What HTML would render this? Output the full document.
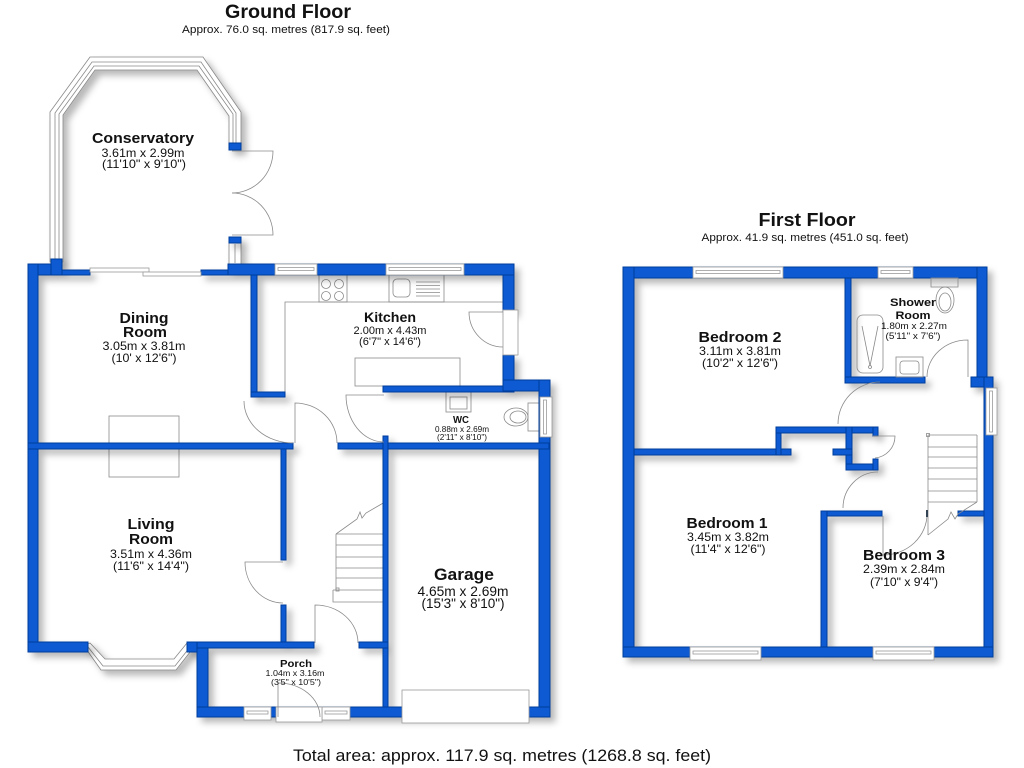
<!DOCTYPE html>
<html><head><meta charset="utf-8"><style>
html,body{margin:0;padding:0;background:#fff;}
svg{display:block;}
text{font-family:"Liberation Sans",Arial,sans-serif;fill:#111;}
.b{font-weight:bold;}
.ln{fill:none;stroke:#8a8a8a;stroke-width:0.8;}
.wl{fill:#0a5ad2;stroke:#003c9c;stroke-width:1;}
.wn{fill:#fff;stroke:#9a9a9a;stroke-width:0.8;}
</style></head><body>
<svg width="1024" height="768" viewBox="0 0 1024 768" xmlns="http://www.w3.org/2000/svg">
<defs>
<filter id="sh" x="-10%" y="-10%" width="130%" height="130%"><feDropShadow dx="5" dy="5" stdDeviation="3.5" flood-color="#000" flood-opacity="0.28"/></filter>
</defs>
<rect width="1024" height="768" fill="#fff"/>

<!-- fixtures ground -->
<rect class="ln" x="109" y="416" width="70" height="61"/>
<polyline class="ln" points="285,393 285,302 503,302"/>
<rect class="ln" x="319" y="275" width="28" height="27"/>
<circle class="ln" cx="326" cy="284" r="4.5"/><circle class="ln" cx="339" cy="284" r="4.5"/>
<circle class="ln" cx="326" cy="296" r="4.5"/><circle class="ln" cx="339" cy="296" r="4.5"/>
<rect class="ln" x="389" y="275" width="55" height="27"/>
<rect class="ln" x="393" y="279" width="17" height="18" rx="4"/>
<path class="ln" d="M416,282H440M416,285.5H440M416,289H440M416,292.5H440M416,296H440"/>
<rect class="ln" x="355" y="358" width="105" height="28"/>
<!-- WC fittings -->
<rect class="ln" x="446" y="392" width="25" height="20"/>
<rect class="ln" x="450" y="397" width="17" height="12"/>
<ellipse class="ln" cx="516" cy="417" rx="12" ry="9"/>
<ellipse class="ln" cx="518" cy="417" rx="8" ry="6"/>
<rect class="ln" x="528" y="403" width="13" height="28"/>
<!-- hall stairs -->
<path class="ln" d="M336,534V590M333,590V602H385M333,590H385M336,578H385M336,568H385M336,557H385M336,545H385M336,534H385"/>
<polyline class="ln" points="336,534 357,519 360,512 362,518 366,513 385,502"/>
<rect class="ln" x="336" y="588" width="3" height="3"/>

<!-- conservatory glazing -->
<g filter="url(#sh)">
<polygon fill="#fff" stroke="#888" stroke-width="0.8" points="50,262 50,112 90,57 203,57 241,112 241,143 229,143 229,116 197,70 95,70 63,115 63,262"/>
<rect x="229" y="243" width="12" height="21" fill="#fff" stroke="#888" stroke-width="0.8"/>
<polygon fill="#fff" stroke="#888" stroke-width="0.8" points="84,646 101,670 176,670 194,647 187,643 174,659 105,659 90,643"/>
</g>
<polyline class="ln" points="55,262 55,113 92,62 201,62 236,113 236,143"/>
<polyline class="ln" points="59,262 59,114 94,66 199,66 233,114 233,143"/>
<path class="ln" d="M235,244V263"/>
<polyline class="ln" points="88,647 103,666 175,666 190,647"/>

<!-- walls -->
<g class="wl" filter="url(#sh)">
<rect x="28" y="264" width="24" height="11"/>
<rect x="51" y="259" width="11" height="16"/>
<rect x="62" y="270" width="28" height="5"/>
<rect x="201" y="270" width="28" height="5"/>
<rect x="228" y="264" width="286" height="11"/>
<rect x="229" y="143" width="12" height="7"/>
<rect x="229" y="237" width="12" height="6"/>
<rect x="28" y="264" width="10" height="388"/>
<rect x="251" y="275" width="6" height="122"/>
<rect x="251" y="392" width="34" height="5"/>
<rect x="503" y="275" width="11" height="37"/>
<rect x="503" y="355" width="11" height="37"/>
<rect x="383" y="386" width="131" height="6"/>
<rect x="503" y="380" width="47" height="11"/>
<rect x="539" y="380" width="11" height="337"/>
<rect x="28" y="443" width="265" height="6"/>
<rect x="338" y="443" width="211" height="6"/>
<rect x="383" y="436" width="5" height="281"/>
<rect x="281" y="449" width="5" height="111"/>
<rect x="281" y="605" width="5" height="37"/>
<rect x="28" y="642" width="60" height="10"/>
<rect x="187" y="642" width="21" height="10"/>
<rect x="197" y="642" width="11" height="75"/>
<rect x="197" y="642" width="117" height="6"/>
<rect x="359" y="642" width="29" height="6"/>
<rect x="197" y="707" width="353" height="10"/>
<!-- first floor -->
<rect x="623" y="267" width="364" height="11"/>
<rect x="623" y="267" width="11" height="390"/>
<rect x="977" y="267" width="10" height="116"/>
<rect x="971" y="377" width="22" height="10"/>
<rect x="984" y="377" width="9" height="280"/>
<rect x="623" y="647" width="370" height="10"/>
<rect x="845" y="278" width="6" height="105"/>
<rect x="845" y="377" width="80" height="6"/>
<rect x="634" y="449" width="157" height="6"/>
<rect x="776" y="427" width="5" height="28"/>
<rect x="776" y="427" width="102" height="6"/>
<rect x="846" y="427" width="6" height="43"/>
<rect x="833" y="449" width="19" height="6"/>
<rect x="846" y="464" width="32" height="6"/>
<rect x="873" y="427" width="5" height="9"/>
<rect x="873" y="459" width="5" height="11"/>
<rect x="821" y="511" width="61" height="5"/>
<rect x="821" y="511" width="6" height="136"/>
<rect x="958" y="511" width="26" height="5"/>
</g>

<!-- windows ground -->
<g class="wn">
<rect x="275" y="264" width="42" height="11"/><rect x="278" y="267.5" width="36" height="3"/>
<rect x="386" y="264" width="78" height="11"/><rect x="389" y="267.5" width="72" height="3"/>
<rect x="90" y="268" width="59" height="4"/><rect x="143" y="272" width="58" height="4"/>
<rect x="540" y="397" width="12" height="40"/><rect x="543.5" y="400" width="3" height="34"/>
<rect x="244" y="707" width="27" height="13"/><rect x="247" y="711" width="21" height="3"/>
<rect x="322" y="707" width="28" height="13"/><rect x="325" y="711" width="22" height="3"/>
<rect x="276" y="707" width="46" height="15"/>
<rect x="402" y="690" width="127" height="33"/>
<rect x="503" y="310" width="15" height="45"/>
<!-- windows first -->
<rect x="693" y="267" width="90" height="11"/><rect x="696" y="270.5" width="84" height="3"/>
<rect x="878" y="267" width="35" height="11"/><rect x="881" y="270.5" width="29" height="3"/>
<rect x="986" y="388" width="11" height="47"/><rect x="989.5" y="391" width="3" height="41"/>
<rect x="690" y="647" width="71" height="13"/><rect x="693" y="651" width="65" height="3"/>
<rect x="873" y="647" width="61" height="13"/><rect x="876" y="651" width="55" height="3"/>
</g>

<!-- doors ground -->
<g class="ln">
<path d="M232,151H273A41,42 0 0 1 232,193"/>
<path d="M232,235H273A41,42 0 0 0 232,193"/>
<path d="M244,401A49,42 0 0 0 293,443"/>
<path d="M295,443V403A42,40 0 0 1 337,443"/>
<path d="M384,395H346A38,47 0 0 0 384,442"/>
<path d="M503,312H469A34,35 0 0 0 503,347"/>
<path d="M283,562H245A38,41 0 0 0 283,603"/>
<path d="M315,643V605A43,38 0 0 1 358,643"/>
<path d="M278,717V683A42,34 0 0 1 320,717"/>
</g>

<!-- first floor fittings -->
<g class="ln">
<rect x="857" y="315" width="26" height="58" rx="6"/>
<path d="M862,326L870,366L878,326"/>
<circle cx="870" cy="367" r="1.5"/>
<rect x="896" y="357" width="27" height="20"/>
<rect x="900" y="361" width="19" height="13" rx="3"/>
<rect x="931" y="278" width="27" height="9"/>
<ellipse cx="945" cy="300" rx="9" ry="13"/>
<ellipse cx="945" cy="302" rx="6" ry="9"/>
<path d="M968,377V340A41,37 0 0 0 927,377"/>
<path d="M838,424A42,42 0 0 1 880,382"/>
<path d="M873,436H895A22,22 0 0 1 875,458"/>
<path d="M843,508A35,36 0 0 1 878,472"/>
<path d="M883,516V555A44,41 0 0 0 927,514"/>
<path d="M928,435V535M977,435V502M928,435H977M928,447H977M928,457H977M928,468H977M928,479H977M928,491H977M928,502H977"/>
<polyline points="977,502 958,514 955,519 951,512 948,519 928,535"/>
<rect x="926.5" y="433.5" width="3" height="3"/>
</g>
<rect x="926" y="510" width="2" height="7" fill="#345"/>

<!-- text -->
<text class="b" x="288" y="18" font-size="19.5" text-anchor="middle" textLength="126" lengthAdjust="spacingAndGlyphs">Ground Floor</text>
<text x="286" y="33" font-size="11" text-anchor="middle" textLength="208" lengthAdjust="spacingAndGlyphs">Approx. 76.0 sq. metres (817.9 sq. feet)</text>

<text class="b" x="143" y="143" font-size="15" text-anchor="middle" textLength="102" lengthAdjust="spacingAndGlyphs">Conservatory</text>
<text x="143" y="157" font-size="12" text-anchor="middle" textLength="83" lengthAdjust="spacingAndGlyphs">3.61m x 2.99m</text>
<text x="144" y="168" font-size="12" text-anchor="middle" textLength="84" lengthAdjust="spacingAndGlyphs">(11'10" x 9'10")</text>

<text class="b" x="144" y="323" font-size="15" text-anchor="middle" textLength="49" lengthAdjust="spacingAndGlyphs">Dining</text>
<text class="b" x="145" y="337" font-size="15" text-anchor="middle" textLength="44" lengthAdjust="spacingAndGlyphs">Room</text>
<text x="144" y="350" font-size="12" text-anchor="middle" textLength="83" lengthAdjust="spacingAndGlyphs">3.05m x 3.81m</text>
<text x="144" y="362" font-size="12" text-anchor="middle" textLength="65" lengthAdjust="spacingAndGlyphs">(10' x 12'6")</text>

<text class="b" x="390" y="322" font-size="13.5" text-anchor="middle" textLength="52" lengthAdjust="spacingAndGlyphs">Kitchen</text>
<text x="390" y="334" font-size="11" text-anchor="middle" textLength="73" lengthAdjust="spacingAndGlyphs">2.00m x 4.43m</text>
<text x="390" y="345" font-size="11" text-anchor="middle" textLength="62" lengthAdjust="spacingAndGlyphs">(6'7" x 14'6")</text>

<text class="b" x="461" y="423" font-size="10" text-anchor="middle" textLength="16" lengthAdjust="spacingAndGlyphs">WC</text>
<text x="462" y="432" font-size="8" text-anchor="middle" textLength="54" lengthAdjust="spacingAndGlyphs">0.88m x 2.69m</text>
<text x="462" y="440" font-size="8" text-anchor="middle" textLength="50" lengthAdjust="spacingAndGlyphs">(2'11" x 8'10")</text>

<text class="b" x="151" y="529" font-size="15" text-anchor="middle" textLength="47" lengthAdjust="spacingAndGlyphs">Living</text>
<text class="b" x="151" y="544" font-size="15" text-anchor="middle" textLength="44" lengthAdjust="spacingAndGlyphs">Room</text>
<text x="151" y="558" font-size="12" text-anchor="middle" textLength="82" lengthAdjust="spacingAndGlyphs">3.51m x 4.36m</text>
<text x="151" y="570" font-size="12" text-anchor="middle" textLength="76" lengthAdjust="spacingAndGlyphs">(11'6" x 14'4")</text>

<text class="b" x="464" y="580" font-size="17" text-anchor="middle" textLength="60" lengthAdjust="spacingAndGlyphs">Garage</text>
<text x="463" y="596" font-size="13.5" text-anchor="middle" textLength="91" lengthAdjust="spacingAndGlyphs">4.65m x 2.69m</text>
<text x="463" y="608" font-size="13.5" text-anchor="middle" textLength="83" lengthAdjust="spacingAndGlyphs">(15'3" x 8'10")</text>

<text class="b" x="296" y="667" font-size="10" text-anchor="middle" textLength="32" lengthAdjust="spacingAndGlyphs">Porch</text>
<text x="295" y="676" font-size="8" text-anchor="middle" textLength="59" lengthAdjust="spacingAndGlyphs">1.04m x 3.16m</text>
<text x="296" y="685" font-size="8" text-anchor="middle" textLength="50" lengthAdjust="spacingAndGlyphs">(3'5" x 10'5")</text>

<text class="b" x="807" y="226" font-size="18.5" text-anchor="middle" textLength="97" lengthAdjust="spacingAndGlyphs">First Floor</text>
<text x="805" y="241" font-size="11" text-anchor="middle" textLength="207" lengthAdjust="spacingAndGlyphs">Approx. 41.9 sq. metres (451.0 sq. feet)</text>

<text class="b" x="740" y="342" font-size="15" text-anchor="middle" textLength="83" lengthAdjust="spacingAndGlyphs">Bedroom 2</text>
<text x="740" y="355" font-size="12" text-anchor="middle" textLength="82" lengthAdjust="spacingAndGlyphs">3.11m x 3.81m</text>
<text x="740" y="367" font-size="12" text-anchor="middle" textLength="76" lengthAdjust="spacingAndGlyphs">(10'2" x 12'6")</text>

<text class="b" x="913" y="306" font-size="11" text-anchor="middle" textLength="46" lengthAdjust="spacingAndGlyphs">Shower</text>
<text class="b" x="913" y="319" font-size="11" text-anchor="middle" textLength="35" lengthAdjust="spacingAndGlyphs">Room</text>
<text x="914" y="329" font-size="9.5" text-anchor="middle" textLength="66" lengthAdjust="spacingAndGlyphs">1.80m x 2.27m</text>
<text x="913" y="339" font-size="9.5" text-anchor="middle" textLength="55" lengthAdjust="spacingAndGlyphs">(5'11" x 7'6")</text>

<text class="b" x="727" y="528" font-size="15" text-anchor="middle" textLength="81" lengthAdjust="spacingAndGlyphs">Bedroom 1</text>
<text x="728" y="541" font-size="12" text-anchor="middle" textLength="82" lengthAdjust="spacingAndGlyphs">3.45m x 3.82m</text>
<text x="728" y="553" font-size="12" text-anchor="middle" textLength="75" lengthAdjust="spacingAndGlyphs">(11'4" x 12'6")</text>

<text class="b" x="904" y="560" font-size="15" text-anchor="middle" textLength="82" lengthAdjust="spacingAndGlyphs">Bedroom 3</text>
<text x="904" y="573" font-size="12" text-anchor="middle" textLength="82" lengthAdjust="spacingAndGlyphs">2.39m x 2.84m</text>
<text x="904" y="586" font-size="12" text-anchor="middle" textLength="68" lengthAdjust="spacingAndGlyphs">(7'10" x 9'4")</text>

<text x="502" y="761" font-size="16.5" text-anchor="middle" textLength="418" lengthAdjust="spacingAndGlyphs">Total area: approx. 117.9 sq. metres (1268.8 sq. feet)</text>
</svg>
</body></html>
